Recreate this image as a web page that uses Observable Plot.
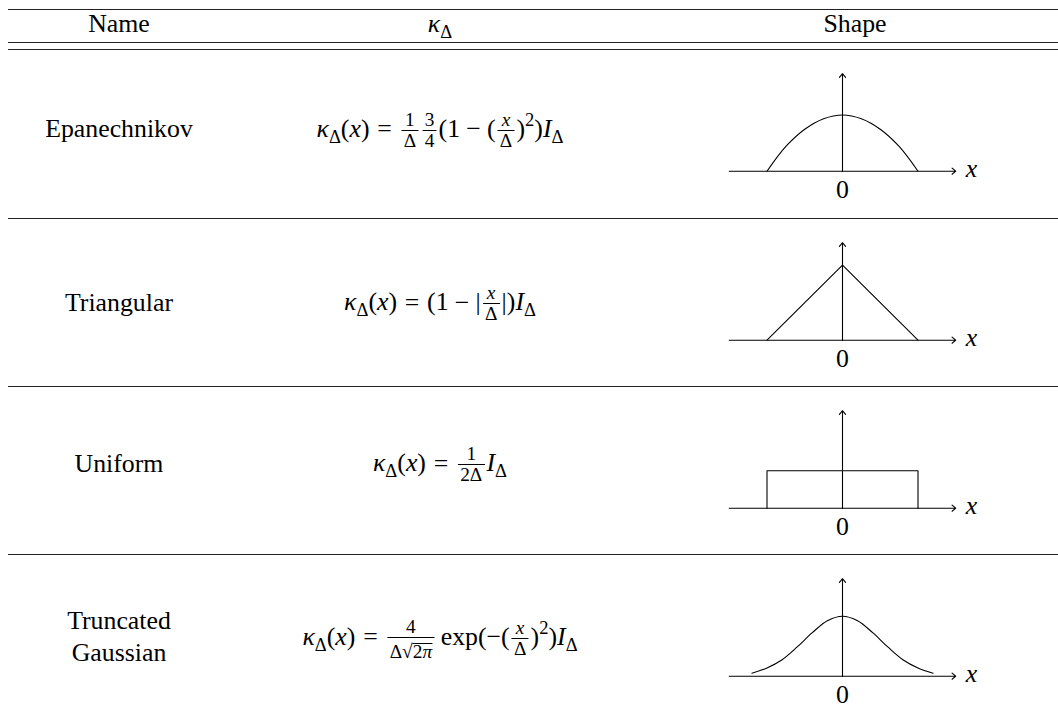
<!DOCTYPE html>
<html>
<head>
<meta charset="utf-8">
<script src="https://cdn.jsdelivr.net/npm/d3@7"></script>
<script src="https://cdn.jsdelivr.net/npm/@observablehq/plot@0.6"></script>
<style>
body{margin:0;background:#fff;}
#root{position:relative;width:1058px;height:717px;overflow:hidden;font-family:"Liberation Serif","Times New Roman",serif;font-size:25.8px;color:#000;}
.rule{position:absolute;left:8px;width:1050px;height:1px;background:#222;}
.cell{position:absolute;left:0;top:0;white-space:nowrap;text-align:center;line-height:1;transform:translateX(-50%);}
.bl{display:inline-block;width:0;height:0;}
.mi{font-style:italic;}
.sub{font-size:0.72em;vertical-align:-0.3em;}
.sup{font-size:0.72em;vertical-align:0.6em;}
.rel{margin:0 0.3em;}
.bin{margin:0 0.24em;}
.op{margin-left:0.17em;}
.frac{display:inline-block;font-size:0.75em;text-align:center;vertical-align:-9.75px;margin:0 0.1em;}
.frac>.num{display:block;line-height:0.8;padding:0 0.12em 2.5px;border-bottom:1px solid #000;}
.frac>.den{display:block;line-height:0.8;padding:2px 0.12em 0;}
.frac.tall{vertical-align:-12.75px;}
.frac.tall>.den{padding-top:5px;}
.rad{display:inline-block;line-height:0.75;border-top:1px solid #000;padding-top:1px;}
</style>
</head>
<body>
<div id="root"></div>
<script>
// ---------- data ----------
const headers = ["Name", "κΔ", "Shape"];
const names = ["Epanechnikov", "Triangular", "Uniform", "Truncated\nGaussian"];

// formula pieces (text only)
const K = '<span class="mi">κ</span><span class="sub">Δ</span>';
const I = '<span class="mi">I</span><span class="sub">Δ</span>';
const X = '<span class="mi">x</span>';
const fr = (a, b, cls = "") => `<span class="frac ${cls}"><span class="num">${a}</span><span class="den">${b}</span></span>`;
const formulas = [
  `${K}(${X})<span class="rel">=</span>${fr("1", "Δ")}${fr("3", "4")}(1<span class="bin">−</span>(${fr(X, "Δ")})<span class="sup">2</span>)${I}`,
  `${K}(${X})<span class="rel">=</span>(1<span class="bin">−</span>|${fr(X, "Δ")}|)${I}`,
  `${K}(${X})<span class="rel">=</span>${fr("1", "2Δ")}${I}`,
  `${K}(${X})<span class="rel">=</span>${fr("4", 'Δ√<span class="rad">2<span class="mi">π</span></span>', "tall")}<span class="op">exp</span>(−(${fr(X, "Δ")})<span class="sup">2</span>)${I}`
];

// shapes (x in units of Δ)
const epanX = [-1, -0.75, -0.5, -0.25, 0, 0.25, 0.5, 0.75, 1];
const epanY = [0, 0.33, 0.56, 0.70, 0.75, 0.70, 0.56, 0.33, 0];
const triX = [-1, 0, 1];
const triY = [0, 1, 0];
const uniX = [-1, -1, 1, 1];
const uniY = [0, 0.5, 0.5, 0];
const gaussX = [-1.2, -1.0, -0.8, -0.6, -0.4, -0.2, 0, 0.2, 0.4, 0.6, 0.8, 1.0, 1.2];
const gaussY = [0.04, 0.11, 0.22, 0.39, 0.58, 0.74, 0.80, 0.74, 0.58, 0.39, 0.22, 0.11, 0.04];
const shapeCurves = ["catmull-rom", "linear", "linear", "catmull-rom"];
const axisX = [-1.5, 1.5];
const axisY = [0, 1.3];
const zeroLabel = "0";
const axisLabel = "x";

// ---------- layout ----------
const root = document.getElementById("root");
const ruleYs = [9, 42.7, 49.2, 218, 386, 554];
const rowTops = [49.2, 218, 386, 554];
const baselines = [137, 310.5, 471.5, 629.3];
const formulaBaselines = [137, 310.5, 471.5, 645];
const colX = [119, 440, 855];
const axisCenterX = 841.7;
const pxX = 75.5, pxY = 75, plotW = 340, plotH = 168, axisOffset = 121.7;

ruleYs.forEach(y => {
  const d = document.createElement("div");
  d.className = "rule";
  d.style.top = (y - 0.5) + "px";
  root.appendChild(d);
});

function placeText(html, cx, baseline, lineHeight) {
  const d = document.createElement("div");
  d.className = "cell";
  if (lineHeight) d.style.lineHeight = lineHeight + "px";
  d.innerHTML = '<span class="bl"></span>' + html;
  root.appendChild(d);
  const off = d.querySelector(".bl").getBoundingClientRect().top - d.getBoundingClientRect().top;
  d.style.left = cx + "px";
  d.style.top = (baseline - off) + "px";
}

placeText(headers[0], colX[0], 31.7);
placeText(K, colX[1], 31.7);
placeText(headers[2], colX[2], 31.7);

names.forEach((n, i) => {
  placeText(n.replace("\n", "<br>"), colX[0], baselines[i], 31.4);
  placeText(formulas[i], colX[1], formulaBaselines[i]);
});

const shapeXs = [epanX, triX, uniX, gaussX];
const shapeYs = [epanY, triY, uniY, gaussY];

shapeXs.forEach((xs, i) => {
  const pts = xs.map((x, j) => ({x, y: shapeYs[i][j]}));
  const arrowOpts = {x1: "x1", y1: "y1", x2: "x2", y2: "y2", headLength: 6.5, headAngle: 80, stroke: "#000", strokeWidth: 1.1};
  const svg = Plot.plot({
    width: plotW, height: plotH,
    marginTop: 0, marginRight: 0, marginBottom: 0, marginLeft: 0,
    x: {domain: [-plotW / 2 / pxX, plotW / 2 / pxX], axis: null},
    y: {domain: [-(plotH - axisOffset) / pxY, axisOffset / pxY], axis: null},
    style: {background: "transparent", overflow: "visible", fontFamily: '"Liberation Serif", serif', fontSize: "25.8px", color: "#000"},
    marks: [
      Plot.arrow([{x1: axisX[0], x2: axisX[1], y1: 0, y2: 0}], arrowOpts),
      Plot.arrow([{x1: 0, x2: 0, y1: axisY[0], y2: axisY[1]}], arrowOpts),
      Plot.line(pts, {x: "x", y: "y", curve: shapeCurves[i], stroke: "#000", strokeWidth: 1.1}),
      Plot.text([{x: 0, y: 0, t: zeroLabel}], {x: "x", y: "y", text: "t", dy: 18.5, lineAnchor: "middle", fontSize: 25.8, fill: "#000"}),
      Plot.text([{x: axisX[1], y: 0, t: axisLabel}], {x: "x", y: "y", text: "t", textAnchor: "start", lineAnchor: "bottom", dx: 10, dy: 6, fontStyle: "italic", fontSize: 25.8, fill: "#000"})
    ]
  });
  svg.style.position = "absolute";
  svg.style.left = (axisCenterX - plotW / 2) + "px";
  svg.style.top = rowTops[i] + "px";
  root.appendChild(svg);
});
</script>
</body>
</html>
